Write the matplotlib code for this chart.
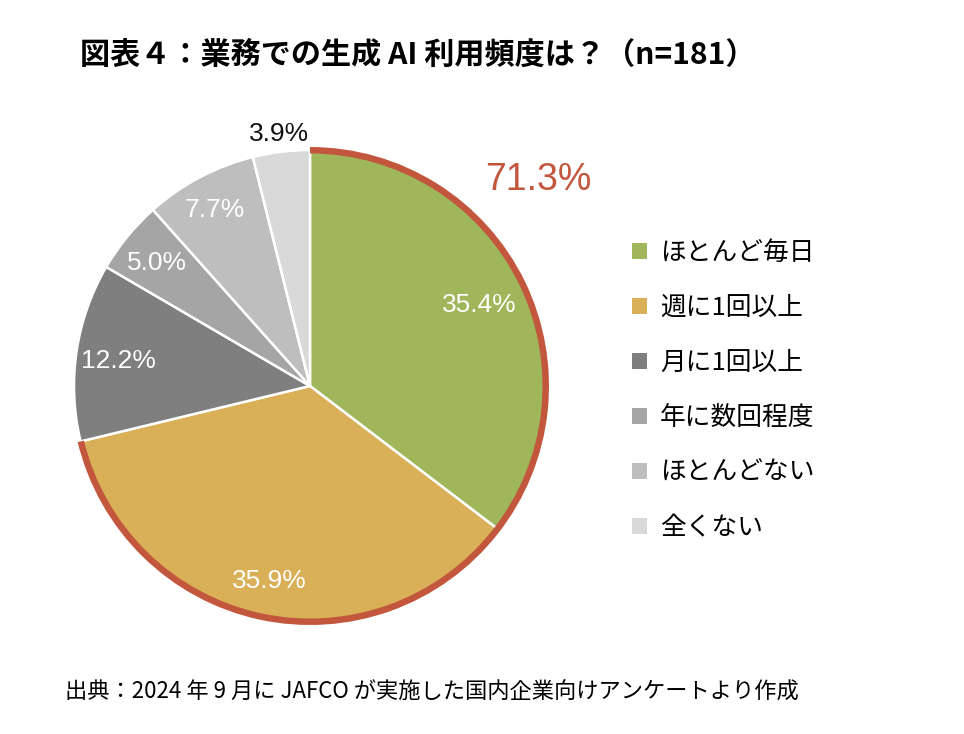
import matplotlib
matplotlib.use("Agg")
import matplotlib.pyplot as plt
from matplotlib.patches import Wedge
import numpy as np

plt.rcParams['font.family'] = ['Noto Sans CJK JP', 'DejaVu Sans']

categories = ["ほとんど毎日", "週に1回以上", "月に1回以上", "年に数回程度", "ほとんどない", "全くない"]
values = [35.4, 35.9, 12.2, 5.0, 7.7, 3.9]
colors = ["#A0B65A", "#D9AF57", "#7F7F7F", "#A5A5A5", "#BEBEBE", "#D9D9D9"]
label_colors = ["white", "white", "white", "white", "white", "#111111"]
highlight_total = "71.3%"
title = "図表４：業務での生成 AI 利用頻度は？（n=181）"
source = "出典：2024 年 9 月に JAFCO が実施した国内企業向けアンケートより作成"

W, H = 964, 734
fig = plt.figure(figsize=(W / 100, H / 100), dpi=100)
ax = fig.add_axes([0, 0, 1, 1])

cx, cy, R = 310, H - 386, 236
wedges, _ = ax.pie(values, colors=colors, startangle=90, counterclock=False,
                   center=(cx, cy), radius=R, frame=True,
                   wedgeprops=dict(edgecolor='white', linewidth=1.8))
ax.set_xlim(0, W)
ax.set_ylim(0, H)
ax.set_aspect('equal')
ax.axis('off')

total = sum(values)
angles = 90 - 360 * np.cumsum([0] + values) / total
dists = [0.80, 0.83, 0.82, 0.84, 0.86, 1.09]
for i, v in enumerate(values):
    mid = np.deg2rad((angles[i] + angles[i + 1]) / 2)
    d = dists[i] * R
    ax.text(cx + d * np.cos(mid), cy + d * np.sin(mid) - 3, f"{v:.1f}%",
            ha='center', va='center', fontsize=19, color=label_colors[i],
            family=['Liberation Sans', 'DejaVu Sans'])

# highlight arc over first two categories
end = angles[2]
ax.add_patch(Wedge((cx, cy), R + 3, end, 90, width=6.5, facecolor="#C2573E",
                   edgecolor='none', zorder=5))
ax.text(538, H - 180, highlight_total, ha='center', va='center', fontsize=27,
        color="#C2573E", family=['Liberation Sans', 'DejaVu Sans'])

fig.legend(wedges, categories, loc='upper left', bbox_to_anchor=(632 / W, 1 - 240 / H),
           frameon=False, fontsize=18.5, handlelength=0.6, handleheight=0.6,
           handletextpad=0.5, labelspacing=1.13, borderaxespad=0, borderpad=0)
for h in fig.legends[0].legend_handles:
    h.set_edgecolor('none')

fig.text(80 / W, 1 - 55 / H, title, ha='left', va='center', fontsize=21.7,
         fontweight='bold', color='black')
fig.text(65 / W, 1 - 692 / H, source, ha='left', va='center', fontsize=16,
         color='black')

fig.savefig("out.png", dpi=100, facecolor='white')
